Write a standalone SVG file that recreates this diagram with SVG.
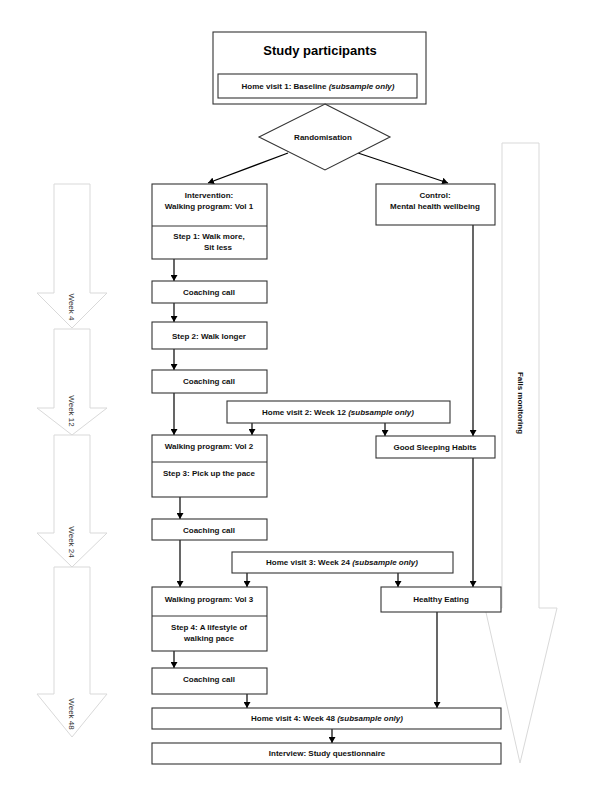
<svg xmlns="http://www.w3.org/2000/svg" width="600" height="805" viewBox="0 0 600 805">
<style>
.bg{fill:#fff}
.big{fill:#fff;stroke:#d9d9d9;stroke-width:1}
.box{fill:#fff;stroke:#333;stroke-width:1.1}
.t{font-family:"Liberation Sans",Arial,sans-serif;font-size:8px;font-weight:bold;fill:#111;text-anchor:middle}
.w{font-family:"Liberation Sans",Arial,sans-serif;font-size:8px;fill:#333;text-anchor:middle}
.title{font-family:"Liberation Sans",Arial,sans-serif;font-size:13px;font-weight:bold;fill:#000;text-anchor:middle}
.c{fill:none;stroke:#000;stroke-width:1.2;marker-end:url(#ah)}
</style>
<defs>
<marker id="ah" markerUnits="userSpaceOnUse" markerWidth="7" markerHeight="7" refX="6" refY="3.5" orient="auto">
<path d="M0,0 L6,3.5 L0,7 z" fill="#000"/>
</marker>
</defs>
<rect class="bg" x="0" y="0" width="600" height="805"/>

<g id="timeline">
<polygon class="big" points="54,184 90,184 90,293 107,293 72,328 37,293 54,293"/>
<text class="w" transform="translate(72,307) rotate(90)" dy="3">Week 4</text>
<polygon class="big" points="54,329 90,329 90,408 107,408 72,435 37,408 54,408"/>
<text class="w" transform="translate(72,411) rotate(90)" dy="3">Week 12</text>
<polygon class="big" points="54,435 90,435 90,533 107,533 72,567 37,533 54,533"/>
<text class="w" transform="translate(72,542) rotate(90)" dy="3">Week 24</text>
<polygon class="big" points="54,567 90,567 90,694 107,694 72,737 37,694 54,694"/>
<text class="w" transform="translate(72,714) rotate(90)" dy="3">Week 48</text>
</g>

<g id="falls">
<polygon class="big" points="502,143 539,143 539,608 557,608 520,763 485,608 502,608"/>
<text class="t" transform="translate(521,403) rotate(90)" dy="3">Falls monitoring</text>
</g>

<g id="connectors">
<line class="c" x1="288" y1="153" x2="208" y2="183"/>
<line class="c" x1="358" y1="153" x2="448" y2="183"/>
<line class="c" x1="174" y1="259" x2="174" y2="281"/>
<line class="c" x1="174" y1="303" x2="174" y2="322"/>
<line class="c" x1="174" y1="349" x2="174" y2="370"/>
<line class="c" x1="174" y1="393" x2="174" y2="435"/>
<line class="c" x1="252" y1="423" x2="252" y2="435"/>
<line class="c" x1="385" y1="423" x2="385" y2="436"/>
<line class="c" x1="473" y1="225" x2="473" y2="436"/>
<line class="c" x1="180" y1="497" x2="180" y2="519"/>
<line class="c" x1="180" y1="540" x2="180" y2="587"/>
<line class="c" x1="247" y1="573" x2="247" y2="587"/>
<line class="c" x1="398" y1="573" x2="398" y2="587"/>
<line class="c" x1="473" y1="458" x2="473" y2="587"/>
<line class="c" x1="174" y1="651" x2="174" y2="668"/>
<line class="c" x1="247" y1="694" x2="247" y2="708"/>
<line class="c" x1="437" y1="612" x2="437" y2="708"/>
<line class="c" x1="332" y1="729" x2="332" y2="743"/>
</g>

<g id="participants">
<rect class="box" x="213" y="32" width="213" height="72" stroke-width="1.4"/>
<text class="title" x="320" y="55">Study participants</text>
<rect class="box" x="218" y="74" width="199" height="24"/>
<text class="t" x="318" y="89">Home visit 1: Baseline <tspan font-style="italic">(subsample only)</tspan></text>
</g>

<g id="randomisation">
<polygon class="box" points="325,104 390,137 325,170 259,137" stroke="#555" stroke-width="0.8"/>
<text class="t" x="323" y="140">Randomisation</text>
</g>

<g id="intervention">
<rect class="box" x="152" y="184" width="115" height="75"/>
<line x1="152" y1="226" x2="267" y2="226" stroke="#333" stroke-width="1"/>
<text class="t" x="209" y="198">Intervention:</text>
<text class="t" x="209" y="209">Walking program: Vol 1</text>
<text class="t" x="209" y="239">Step 1: Walk more,</text>
<text class="t" x="218" y="250">Sit less</text>
</g>

<g id="control">
<rect class="box" x="376" y="184" width="119" height="41"/>
<text class="t" x="435" y="198">Control:</text>
<text class="t" x="435" y="209">Mental health wellbeing</text>
</g>

<g id="coaching1">
<rect class="box" x="152" y="281" width="115" height="22"/>
<text class="t" x="209" y="295">Coaching call</text>
</g>

<g id="step2">
<rect class="box" x="152" y="322" width="115" height="27"/>
<text class="t" x="209" y="339">Step 2: Walk longer</text>
</g>

<g id="coaching2">
<rect class="box" x="152" y="370" width="115" height="23"/>
<text class="t" x="209" y="384">Coaching call</text>
</g>

<g id="homevisit2">
<rect class="box" x="227" y="401" width="223" height="22"/>
<text class="t" x="338" y="415">Home visit 2: Week 12 <tspan font-style="italic">(subsample only)</tspan></text>
</g>

<g id="sleeping">
<rect class="box" x="376" y="436" width="119" height="22"/>
<text class="t" x="435" y="450">Good Sleeping Habits</text>
</g>

<g id="vol2">
<rect class="box" x="152" y="435" width="115" height="62"/>
<line x1="152" y1="462" x2="267" y2="462" stroke="#333" stroke-width="1"/>
<text class="t" x="209" y="449">Walking program: Vol 2</text>
<text class="t" x="209" y="476">Step 3: Pick up the pace</text>
</g>

<g id="coaching3">
<rect class="box" x="152" y="519" width="115" height="21"/>
<text class="t" x="209" y="533">Coaching call</text>
</g>

<g id="homevisit3">
<rect class="box" x="232" y="552" width="221" height="21"/>
<text class="t" x="342" y="565">Home visit 3: Week 24 <tspan font-style="italic">(subsample only)</tspan></text>
</g>

<g id="eating">
<rect class="box" x="381" y="587" width="120" height="25"/>
<text class="t" x="441" y="602">Healthy Eating</text>
</g>

<g id="vol3">
<rect class="box" x="152" y="587" width="115" height="64"/>
<line x1="152" y1="616" x2="267" y2="616" stroke="#333" stroke-width="1"/>
<text class="t" x="209" y="602">Walking program: Vol 3</text>
<text class="t" x="209" y="630">Step 4: A lifestyle of</text>
<text class="t" x="209" y="641">walking pace</text>
</g>

<g id="coaching4">
<rect class="box" x="152" y="668" width="115" height="26"/>
<text class="t" x="209" y="682">Coaching call</text>
</g>

<g id="homevisit4">
<rect class="box" x="152" y="708" width="349" height="21"/>
<text class="t" x="327" y="721">Home visit 4: Week 48 <tspan font-style="italic">(subsample only)</tspan></text>
</g>

<g id="interview">
<rect class="box" x="152" y="743" width="349" height="21"/>
<text class="t" x="327" y="756">Interview: Study questionnaire</text>
</g>
</svg>
